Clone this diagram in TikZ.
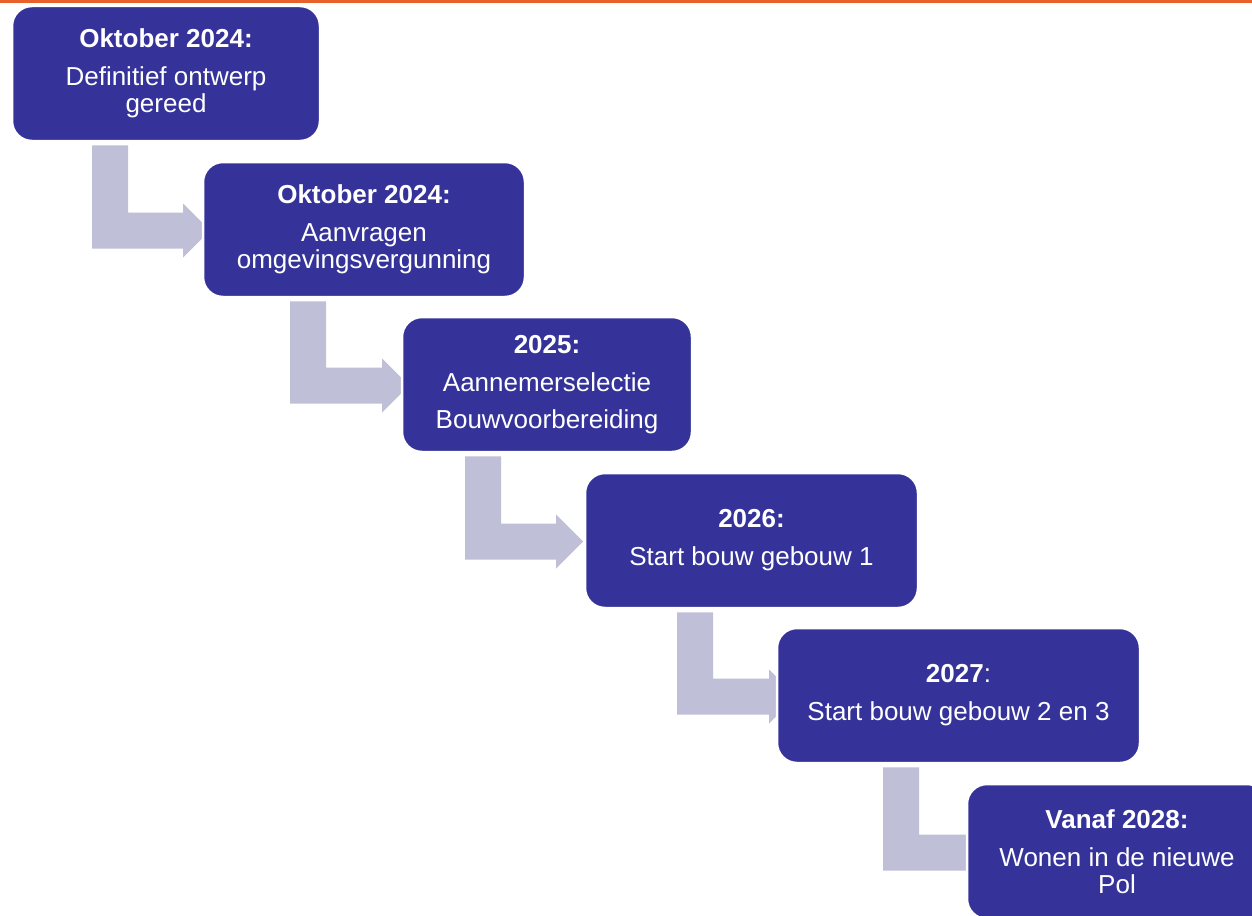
\documentclass[tikz,border=0pt]{standalone}
\usepackage{fontspec}
\setmainfont{Liberation Sans}
\usetikzlibrary{calc}
\pgfdeclarelayer{edgelayer}
\pgfdeclarelayer{nodelayer}
\pgfsetlayers{edgelayer,nodelayer,main}
\definecolor{boxblue}{RGB}{53,51,153}
\definecolor{arrowgrey}{RGB}{191,191,216}
\definecolor{topline}{RGB}{232,97,45}
\tikzset{font=\fontsize{26}{27}\selectfont}
\tikzstyle{stepbox}=[rectangle,rounded corners=20pt,fill=boxblue,draw=white,line width=2.5pt,text=white,align=center,minimum height=135pt,inner sep=0pt]
\tikzstyle{bentfill}=[fill=arrowgrey]
% bent block arrow: from box, to box, left x of shaft, x where the head starts
\newcommand{\bentarrow}[4]{%
	\fill[style=bentfill] let \p1=(#1.south), \p2=(#2.center) in
		({#3pt},{\y1-3pt}) -- ({#3pt+36pt},{\y1-3pt}) -- ({#3pt+36pt},{\y2+17pt})
		-- ({#4pt},{\y2+17pt}) -- ({#4pt},{\y2+26pt}) -- ({#4pt+27pt},{\y2-1pt})
		-- ({#4pt},{\y2-28pt}) -- ({#4pt},{\y2-19pt}) -- ({#3pt},{\y2-19pt}) -- cycle;}

\begin{document}
\begin{tikzpicture}[x=1pt,y=-1pt]
	\useasboundingbox (0,0) rectangle (1252,915);
	\fill[topline] (0,0) rectangle (1252,3.5);
	\begin{pgfonlayer}{nodelayer}
		\node [style=stepbox, minimum width=308pt] (0) at (166, 73.5) {\textbf{Oktober 2024:}\\[11pt]Definitief ontwerp\\gereed};
		\node [style=stepbox, minimum width=322pt] (1) at (364, 229.5) {\textbf{Oktober 2024:}\\[11pt]Aanvragen\\omgevingsvergunning};
		\node [style=stepbox, minimum width=290pt] (2) at (547, 384.5) {\textbf{2025:}\\[11pt]Aannemerselectie\\[10pt]Bouwvoorbereiding};
		\node [style=stepbox, minimum width=333pt] (3) at (751.5, 540.5) {\textbf{2026:}\\[11pt]Start bouw gebouw 1};
		\node [style=stepbox, minimum width=363pt] (4) at (958.5, 695.5) {\textbf{2027}:\\[11pt]Start bouw gebouw 2 en 3};
		\node [style=stepbox, minimum width=300pt] (5) at (1117, 851.5) {\textbf{Vanaf 2028:}\\[11pt]Wonen in de nieuwe\\Pol};
	\end{pgfonlayer}
	\begin{pgfonlayer}{edgelayer}
		\bentarrow{0}{1}{92}{183}
		\bentarrow{1}{2}{290}{382}
		\bentarrow{2}{3}{465}{556}
		\bentarrow{3}{4}{677}{769}
		\bentarrow{4}{5}{883}{970}
	\end{pgfonlayer}
\end{tikzpicture}
\end{document}
